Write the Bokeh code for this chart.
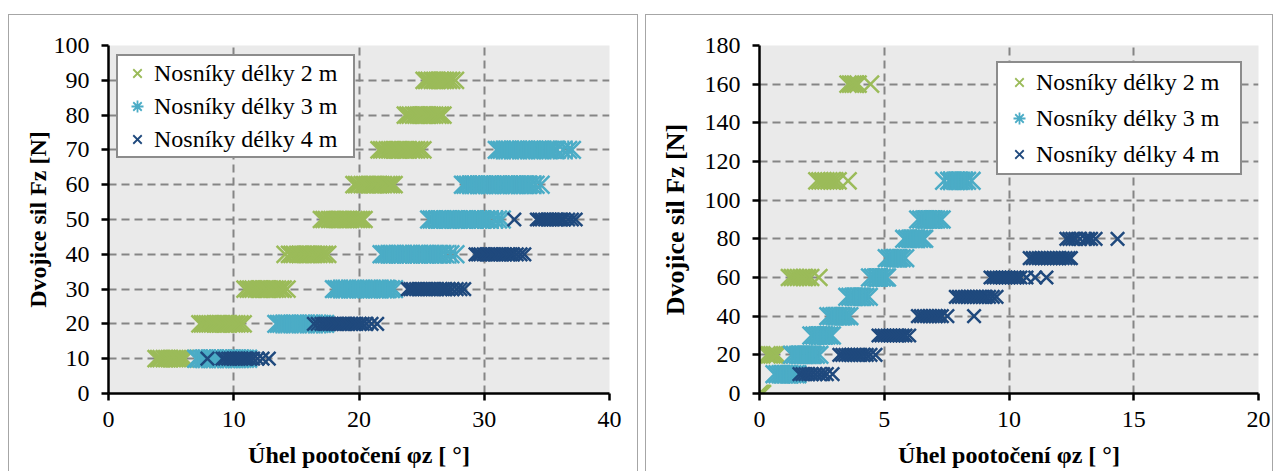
import math
from bokeh.plotting import figure
from bokeh.models import Range1d, SingleIntervalTicker, Legend, LegendItem, Spacer
from bokeh.layouts import row, column
from bokeh.embed import file_html
from bokeh.resources import INLINE

GREEN = "#9BBB59"
CYAN = "#4BACC6"
DARK = "#1F497D"
LABELS = ["Nosníky délky 2 m", "Nosníky délky 3 m", "Nosníky délky 4 m"]
X_TITLE = "Úhel pootočení φz [ °]"
Y_TITLE = "Dvojice sil Fz [N]"
FONT = "Liberation Serif"

# ---- left chart: Fz level -> measured rotation angles ----
left_2m = {
    10: [3.8, 4.0, 4.2, 4.45, 4.65, 4.85, 5.1, 5.3, 5.5, 5.7, 5.9, 6.1],
    20: [7.3, 7.5, 7.7, 7.9, 8.1, 8.3, 8.55, 8.75, 8.95, 9.2, 9.4, 9.6, 9.85, 10.05, 10.25, 10.5, 10.75],
    30: [10.9, 11.15, 11.35, 11.55, 11.8, 12.0, 12.2, 12.45, 12.65, 12.85, 13.1, 13.3, 13.5, 13.75, 13.95, 14.25],
    40: [14.1, 14.45, 14.65, 14.85, 15.1, 15.3, 15.5, 15.75, 15.95, 16.15, 16.4, 16.6, 16.8, 17.05, 17.25, 17.5],
    50: [17.0, 17.2, 17.4, 17.65, 17.85, 18.05, 18.3, 18.5, 18.7, 18.95, 19.15, 19.35, 19.6, 19.8, 20.0, 20.2, 20.4],
    60: [19.6, 19.8, 20.0, 20.25, 20.45, 20.65, 20.9, 21.1, 21.3, 21.55, 21.75, 21.95, 22.2, 22.4, 22.6, 22.8],
    70: [21.6, 21.8, 22.0, 22.25, 22.45, 22.65, 22.9, 23.1, 23.3, 23.55, 23.75, 23.95, 24.2, 24.4, 24.6, 24.85, 25.1],
    80: [23.7, 23.9, 24.1, 24.35, 24.55, 24.75, 25.0, 25.2, 25.4, 25.65, 25.85, 26.05, 26.3, 26.5, 26.7],
    90: [25.2, 25.4, 25.6, 25.85, 26.05, 26.25, 26.5, 26.7, 26.9, 27.15, 27.4, 27.7],
}
left_3m = {
    10: [7.0, 7.2, 7.45, 7.65, 7.85, 8.1, 8.3, 8.5, 8.75, 8.95, 9.15, 9.4, 9.6, 9.8, 10.05, 10.25, 10.45, 10.7, 10.9, 11.15],
    20: [13.4, 13.6, 13.8, 14.05, 14.25, 14.45, 14.7, 14.9, 15.1, 15.35, 15.55, 15.75, 16.0, 16.2, 16.4, 16.65, 16.85, 17.05, 17.3],
    30: [18.0, 18.2, 18.4, 18.65, 18.85, 19.05, 19.3, 19.5, 19.7, 19.95, 20.15, 20.35, 20.6, 20.8, 21.0, 21.25, 21.45, 21.65, 21.9, 22.1, 22.3, 22.55, 22.8],
    40: [21.8, 22.0, 22.2, 22.45, 22.65, 22.85, 23.1, 23.3, 23.5, 23.75, 23.95, 24.15, 24.4, 24.6, 24.8, 25.05, 25.25, 25.45, 25.7, 25.9, 26.1, 26.35, 26.6, 26.9, 27.3, 27.7],
    50: [25.6, 25.8, 26.0, 26.25, 26.45, 26.65, 26.9, 27.1, 27.3, 27.55, 27.75, 27.95, 28.2, 28.4, 28.6, 28.85, 29.05, 29.25, 29.5, 29.7, 29.9, 30.15, 30.4, 30.8, 31.1, 31.4],
    60: [28.3, 28.5, 28.7, 28.95, 29.15, 29.35, 29.6, 29.8, 30.0, 30.25, 30.45, 30.65, 30.9, 31.1, 31.3, 31.55, 31.75, 31.95, 32.2, 32.4, 32.6, 32.85, 33.05, 33.3, 33.55, 33.8, 34.1, 34.5],
    70: [31.0, 31.2, 31.4, 31.65, 31.85, 32.05, 32.3, 32.5, 32.7, 32.95, 33.15, 33.35, 33.6, 33.8, 34.0, 34.25, 34.45, 34.65, 34.9, 35.1, 35.3, 35.55, 35.8, 36.3, 36.7, 37.0],
}
left_4m = {
    10: [7.9, 9.1, 9.3, 9.55, 9.75, 9.95, 10.2, 10.4, 10.6, 10.85, 11.05, 11.3, 11.55, 11.9, 12.3, 12.8],
    20: [16.4, 16.7, 17.0, 17.2, 17.45, 17.65, 17.85, 18.1, 18.3, 18.5, 18.75, 18.95, 19.15, 19.4, 19.6, 19.8, 20.05, 20.3, 20.6, 21.0, 21.45],
    30: [23.9, 24.1, 24.3, 24.55, 24.75, 24.95, 25.2, 25.4, 25.6, 25.85, 26.05, 26.25, 26.5, 26.7, 26.9, 27.15, 27.45, 27.8, 28.1, 28.4],
    40: [29.3, 29.5, 29.7, 29.95, 30.15, 30.35, 30.6, 30.8, 31.0, 31.25, 31.45, 31.65, 31.9, 32.1, 32.3, 32.6, 32.9, 33.2],
    50: [32.4, 34.2, 34.4, 34.6, 34.85, 35.05, 35.25, 35.5, 35.7, 35.9, 36.15, 36.35, 36.7, 37.0, 37.3],
}

# ---- right chart ----
right_2m = {
    0: [0.0, 0.04, 0.08, 0.12],
    20: [0.3, 0.4, 0.5, 0.6, 0.7],
    60: [1.2, 1.32, 1.44, 1.56, 1.68, 1.8, 1.92, 2.05, 2.38],
    110: [2.3, 2.42, 2.54, 2.66, 2.78, 2.9, 3.02, 3.15, 3.55],
    160: [3.55, 3.65, 3.75, 3.85, 3.95, 4.45],
}
right_3m = {
    10: [0.6, 0.72, 0.84, 0.96, 1.08, 1.2, 1.32, 1.44, 1.52],
    20: [1.3, 1.42, 1.54, 1.66, 1.78, 1.9, 2.02, 2.14, 2.26, 2.4],
    30: [2.08, 2.2, 2.32, 2.44, 2.56, 2.68, 2.8, 2.9],
    40: [2.76, 2.88, 3.0, 3.12, 3.24, 3.36, 3.48, 3.6],
    50: [3.52, 3.64, 3.76, 3.88, 4.0, 4.12, 4.24, 4.38],
    60: [4.43, 4.55, 4.67, 4.79, 4.91, 5.03, 5.11],
    70: [5.1, 5.22, 5.34, 5.46, 5.58, 5.7, 5.84],
    80: [5.8, 5.92, 6.04, 6.16, 6.28, 6.4, 6.52, 6.6],
    90: [6.36, 6.48, 6.6, 6.72, 6.84, 6.96, 7.08, 7.2, 7.3],
    110: [7.4, 7.6, 7.72, 7.84, 7.96, 8.08, 8.2, 8.32, 8.5],
}
right_4m = {
    10: [1.6, 1.72, 1.84, 1.96, 2.1, 2.25, 2.4, 2.55, 2.7, 2.93],
    20: [3.2, 3.32, 3.44, 3.56, 3.68, 3.8, 3.92, 4.04, 4.16, 4.3, 4.45, 4.65],
    30: [4.77, 4.89, 5.01, 5.13, 5.25, 5.37, 5.49, 5.61, 5.73, 5.85, 6.0],
    40: [6.35, 6.47, 6.59, 6.71, 6.83, 6.95, 7.07, 7.19, 7.31, 7.53, 8.6],
    50: [7.87, 7.99, 8.11, 8.23, 8.35, 8.47, 8.59, 8.71, 8.83, 8.95, 9.07, 9.2, 9.35, 9.5],
    60: [9.26, 9.38, 9.5, 9.62, 9.74, 9.86, 9.98, 10.1, 10.22, 10.34, 10.46, 10.7, 11.05, 11.5],
    70: [10.83, 10.95, 11.07, 11.19, 11.31, 11.43, 11.55, 11.67, 11.79, 11.91, 12.03, 12.15, 12.27, 12.39, 12.48],
    80: [12.3, 12.42, 12.54, 12.66, 12.85, 13.05, 13.17, 13.29, 13.47, 14.35],
}


def flatten(d):
    xs, ys = [], []
    for lvl, vals in d.items():
        xs.extend(vals)
        ys.extend([lvl] * len(vals))
    return xs, ys


# (legend marker, x-size, colour, vertical bar size or None)
STYLE = [("x", 24, GREEN, None), ("asterisk", 25, CYAN, 19), ("x", 19, DARK, None)]
BORDER = "1px solid #A6A6A6"


def make_panel(series, xmax, xstep, ymax, ystep, frame_w, mb_left, mb_right,
               leg_loc, leg_pad, leg_spacing, leg_gw, leg_lw,
               ylab_size, ylab_standoff):
    p = figure(output_backend="svg", toolbar_location=None,
               x_range=Range1d(0, xmax), y_range=Range1d(0, ymax),
               frame_width=frame_w, frame_height=347,
               min_border_left=mb_left, min_border_right=mb_right,
               min_border_top=30, min_border_bottom=79,
               background_fill_color="#EAEAEA", border_fill_color="white",
               outline_line_color=None)
    p.styles = {"border-left": BORDER, "border-right": BORDER, "border-top": BORDER}

    xt = SingleIntervalTicker(interval=xstep, num_minor_ticks=0)
    yt = SingleIntervalTicker(interval=ystep, num_minor_ticks=0)
    p.xaxis.ticker = xt
    p.yaxis.ticker = yt
    p.xgrid.ticker = xt
    p.ygrid.ticker = yt
    for g in (p.xgrid[0], p.ygrid[0]):
        g.grid_line_color = "#858585"
        g.grid_line_width = 2
        g.grid_line_dash = "8 5"

    for ax in (p.xaxis[0], p.yaxis[0]):
        ax.axis_line_color = "black"
        ax.axis_line_width = 2.5
        ax.major_tick_line_color = "black"
        ax.major_tick_line_width = 2.5
        ax.major_tick_out = 7
        ax.major_tick_in = 0
        ax.minor_tick_line_color = None
        ax.major_label_text_font = FONT
        ax.major_label_text_font_size = "24px"
        ax.major_label_text_color = "black"
        ax.axis_label_text_font = FONT
        ax.axis_label_text_font_style = "bold"
        ax.axis_label_text_color = "black"
    p.xaxis.axis_label = X_TITLE
    p.xaxis.axis_label_text_font_size = "24px"
    p.xaxis.major_label_standoff = 11
    p.xaxis.axis_label_standoff = 12
    p.yaxis.axis_label = Y_TITLE
    p.yaxis.axis_label_text_font_size = ylab_size
    p.yaxis.major_label_standoff = 12
    p.yaxis.axis_label_standoff = ylab_standoff

    items = []
    for d, (mk, sz, col, bar), lab in zip(series, STYLE, LABELS):
        xs, ys = flatten(d)
        p.scatter(xs, ys, marker="x", size=sz, line_color=col, line_width=2.5)
        if bar:
            p.scatter(xs, ys, marker="dash", size=bar, angle=math.pi / 2,
                      line_color=col, line_width=2)
        leg_r = p.scatter(x=[float("nan")], y=[float("nan")], marker=mk, size=10,
                          line_color=col, line_width=1.8)
        items.append(LegendItem(label=lab, renderers=[leg_r]))

    legend = Legend(items=items, location=leg_loc, margin=0, padding=leg_pad,
                    spacing=leg_spacing, glyph_width=leg_gw, glyph_height=30,
                    label_height=30, label_width=leg_lw, label_standoff=0,
                    label_text_font=FONT, label_text_font_size="24px",
                    label_text_color="black",
                    border_line_color="#1a1a1a", border_line_width=2,
                    background_fill_color="white", background_fill_alpha=1.0)
    p.add_layout(legend)
    return p


p1 = make_panel([left_2m, left_3m, left_4m], 40, 10, 100, 10, 499, 99, 30,
                (8, 235), 2, 3, 34, 197, "24px", 0)
p2 = make_panel([right_2m, right_3m, right_4m], 20, 5, 180, 20, 497, 113, 16,
                (237, 218), 4, 6, 34, 200, "26px", 12)

layout = column(Spacer(height=14),
                row(Spacer(width=8), p1, Spacer(width=7), p2))

open("out.html", "w").write(file_html(layout, INLINE))
